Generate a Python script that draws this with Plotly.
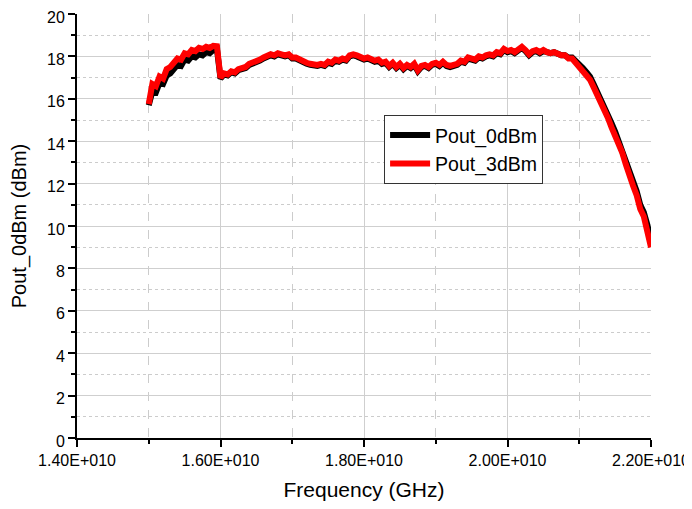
import plotly.graph_objects as go

# Frequency sweep (GHz), 15.00 .. 22.00 in 0.05 GHz steps
freq_ghz = [round(15.0 + 0.05 * i, 2) for i in range(141)]

pout_3dbm = [
    15.75, 16.70, 16.60, 17.05, 16.95, 17.40, 17.50, 17.75, 17.90, 17.85,
    18.15, 18.10, 18.30, 18.25, 18.40, 18.35, 18.45, 18.40, 18.50, 18.48,
    17.00, 17.20, 17.15, 17.30, 17.25, 17.40, 17.45, 17.50, 17.65, 17.70,
    17.80, 17.85, 17.95, 18.00, 18.10, 18.05, 18.15, 18.10, 18.05, 18.10,
    17.95, 17.95, 17.85, 17.80, 17.70, 17.65, 17.60, 17.60, 17.65, 17.60,
    17.75, 17.70, 17.85, 17.80, 17.90, 17.85, 18.05, 18.10, 18.05, 17.95,
    17.90, 17.95, 17.85, 17.80, 17.85, 17.70, 17.75, 17.55, 17.70, 17.50,
    17.65, 17.45, 17.60, 17.50, 17.65, 17.35, 17.55, 17.60, 17.50, 17.65,
    17.70, 17.60, 17.75, 17.60, 17.55, 17.60, 17.65, 17.80, 17.75, 17.95,
    17.90, 17.85, 18.00, 17.95, 18.05, 18.10, 18.05, 18.20, 18.15, 18.35,
    18.25, 18.30, 18.20, 18.35, 18.45, 18.30, 18.10, 18.25, 18.30, 18.20,
    18.30, 18.20, 18.15, 18.20, 18.10, 18.05, 18.05, 17.90, 17.90, 17.70,
    17.50, 17.35, 17.10, 16.90, 16.55, 16.20, 15.90, 15.50, 15.10, 14.65,
    14.30, 13.80, 13.45, 12.90, 12.30, 11.90, 11.45, 10.80, 10.45, 9.85,
    9.00,
]

pout_0dbm = [
    15.70, 16.35, 16.30, 16.75, 16.70, 17.10, 17.20, 17.40, 17.60, 17.55,
    17.85, 17.80, 18.00, 17.95, 18.10, 18.05, 18.20, 18.15, 18.30, 18.35,
    16.95, 17.15, 17.10, 17.25, 17.20, 17.35, 17.40, 17.45, 17.60, 17.65,
    17.75, 17.80, 17.90, 17.95, 18.05, 18.00, 18.10, 18.05, 18.00, 18.05,
    17.90, 17.90, 17.80, 17.75, 17.65, 17.60, 17.55, 17.55, 17.60, 17.55,
    17.70, 17.65, 17.80, 17.75, 17.85, 17.80, 18.00, 18.05, 18.00, 17.90,
    17.85, 17.90, 17.80, 17.75, 17.80, 17.65, 17.70, 17.50, 17.65, 17.45,
    17.60, 17.40, 17.55, 17.45, 17.60, 17.30, 17.50, 17.55, 17.45, 17.60,
    17.65, 17.55, 17.70, 17.55, 17.50, 17.55, 17.60, 17.75, 17.70, 17.90,
    17.85, 17.80, 17.95, 17.90, 18.00, 18.05, 18.00, 18.15, 18.10, 18.30,
    18.20, 18.25, 18.15, 18.30, 18.40, 18.25, 18.05, 18.20, 18.25, 18.15,
    18.25, 18.20, 18.15, 18.20, 18.10, 18.05, 18.05, 17.95, 17.95, 17.80,
    17.60, 17.45, 17.25, 17.05, 16.70, 16.35, 16.05, 15.65, 15.25, 14.85,
    14.45, 14.00, 13.60, 13.10, 12.50, 12.10, 11.65, 11.00, 10.65, 10.05,
    9.20,
]

x_tick_vals = [1.4e10, 1.6e10, 1.8e10, 2.0e10, 2.2e10]
x_tick_text = ["1.40E+010", "1.60E+010", "1.80E+010", "2.00E+010", "2.20E+010"]

freq_hz = [f * 1e9 for f in freq_ghz]

fig = go.Figure()
fig.add_trace(go.Scatter(x=freq_hz, y=pout_0dbm, mode="lines", name="Pout_0dBm",
                         line=dict(color="black", width=6)))
fig.add_trace(go.Scatter(x=freq_hz, y=pout_3dbm, mode="lines", name="Pout_3dBm",
                         line=dict(color="#ff0000", width=6)))

font_family = "Liberation Sans, Arial, sans-serif"

# page body has an 8px default margin (left/top), so the figure is 8px smaller
fig.update_layout(
    width=684, height=501,
    margin=dict(l=69, r=41, t=6, b=71),
    paper_bgcolor="white", plot_bgcolor="white",
    font=dict(family=font_family, color="black", size=16),
    showlegend=True,
    legend=dict(x=0.535, y=0.762, xanchor="left", yanchor="top",
                bgcolor="white", bordercolor="#333333", borderwidth=1,
                font=dict(size=19.5, family=font_family),
                tracegroupgap=0, itemwidth=40),
    xaxis=dict(
        range=[1.4e10, 2.2e10],
        tickvals=x_tick_vals, ticktext=x_tick_text,
        showline=True, linecolor="black", linewidth=2,
        ticks="outside", ticklen=7, tickwidth=1.5, tickcolor="black",
        showgrid=True, gridcolor="#cfcfcf", gridwidth=1,
        zeroline=False, automargin=False, ticklabeloverflow="allow",
        minor=dict(tick0=1.4e10, dtick=1e9, ticks="outside", ticklen=4,
                   tickcolor="black", showgrid=True, gridcolor="#cccccc",
                   griddash="dash", gridwidth=1),
        title=dict(text="Frequency (GHz)", font=dict(size=21), standoff=14),
        tickfont=dict(size=16),
    ),
    yaxis=dict(
        range=[0, 20],
        tick0=0, dtick=2,
        showline=True, linecolor="black", linewidth=2,
        ticks="outside", ticklen=7, tickwidth=1.5, tickcolor="black",
        showgrid=True, gridcolor="#cfcfcf", gridwidth=1,
        zeroline=False, automargin=False, ticklabeloverflow="allow",
        ticklabelshift=3,
        minor=dict(tick0=0, dtick=1, ticks="outside", ticklen=4,
                   tickcolor="black", showgrid=True, gridcolor="#cccccc",
                   griddash="dot", gridwidth=1),
        title=dict(text="Pout_0dBm (dBm)", font=dict(size=20), standoff=16),
        tickfont=dict(size=16),
    ),
)

fig.write_html("out.html")
